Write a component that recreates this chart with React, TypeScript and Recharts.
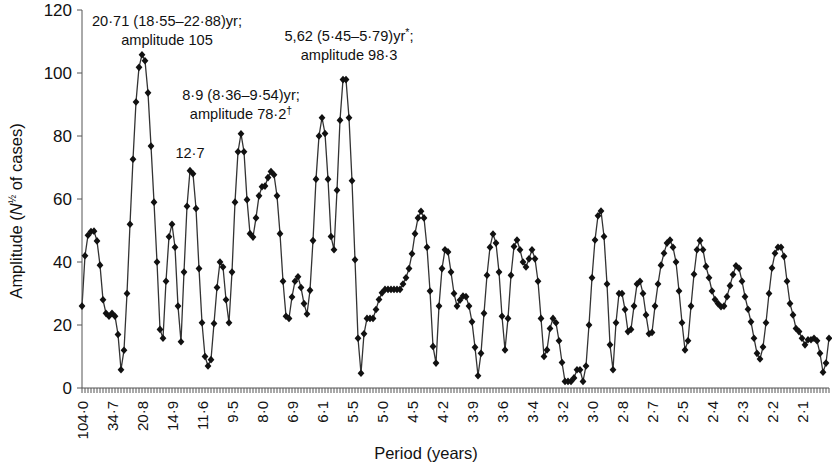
import { LineChart, Line, XAxis, YAxis, ReferenceDot } from "recharts";

// period tick labels, one every 10 frequency steps
const periodLabels = [
  "104·0", "34·7", "20·8", "14·9", "11·6", "9·5", "8·0", "6·9", "6·1", "5·5",
  "5·0", "4·5", "4·2", "3·9", "3·6", "3·4", "3·2", "3·0", "2·8", "2·7",
  "2·5", "2·4", "2·3", "2·2", "2·1",
];

// amplitude (N^1/2 of cases) per frequency step
const amplitude = [
  26, 42, 48.5, 49.7, 49.8, 46.7, 39, 28, 23.7, 22.8,
  23.7, 22.8, 17, 5.8, 12, 30, 52, 72.6, 90.8, 101.8,
  105.8, 103.9, 93.7, 76.8, 59, 40, 18.6, 15.8, 33.9, 48,
  52, 44.7, 26, 14.7, 36.8, 57.7, 69, 68, 57, 37.9,
  20.7, 10, 7, 9, 20.5, 31.9, 40, 38.4, 28, 20.7,
  36.8, 59, 75, 80.7, 75, 59.8, 49, 47.9, 54, 61,
  63.9, 64.1, 66.8, 68.7, 67.7, 61, 49, 33.9, 22.8, 22.1,
  28.9, 33.9, 35.3, 31.9, 26.8, 23.5, 31, 46.8, 66.3, 80,
  85.8, 80.8, 66.3, 48.1, 43.9, 62.8, 85, 97.9, 97.9, 85.8,
  65.8, 40.7, 15.8, 4.7, 17.2, 22.1, 22.1, 22.1, 24.9, 28.1,
  30.2, 31.3, 31.3, 31.3, 31.3, 31.3, 31.3, 33, 35, 37.9,
  42.6, 49, 54, 56.1, 54, 44.7, 30.8, 13.2, 7.9, 26,
  37.9, 43.9, 43.2, 36.8, 30, 26, 27.9, 29.2, 29, 26,
  21, 12.9, 3.9, 11, 23.7, 35.8, 44.7, 48.9, 46, 36.8,
  22.8, 12.1, 22.1, 35.8, 44.9, 47, 43.9, 40, 38.4, 41,
  43.9, 41, 33.9, 22.1, 10, 12.1, 18.9, 22.1, 20.7, 15,
  8.1, 2.1, 2.1, 2.1, 3.2, 5.8, 5.8, 2.1, 7, 20,
  35, 47, 54.7, 56.2, 48.1, 33, 13.7, 5.8, 20.7, 30,
  30, 24.9, 17.9, 18.6, 26, 33, 33.9, 30, 23.2, 17.2,
  17.6, 26, 33, 39, 42.8, 46, 47, 44.7, 40, 30.8,
  20.7, 12.1, 15, 26, 36.1, 43.9, 46.8, 43.9, 38.6, 35,
  30.8, 28.1, 26.8, 25.8, 26, 29, 32.5, 36, 38.8, 38,
  33.9, 29, 25, 21, 15.8, 11, 9.2, 13, 20.7, 30,
  38.1, 42.8, 44.7, 44.7, 41.8, 33.9, 26.8, 23.2, 18.9, 17.9,
  15.8, 13.7, 15.3, 15.3, 15.8, 15, 11, 5, 7.9, 15.8,
];

const yTicks = [0, 20, 40, 60, 80, 100, 120];

const notes = [
  { idx: 28, level: 115, dx: 1, lines: ["20·71 (18·55–22·88)yr;", "amplitude 105"] },
  { idx: 36, level: 73, dx: 0, lines: ["12·7"] },
  { idx: 53, level: 91.4, dx: 0, lines: ["8·9 (8·36–9·54)yr;", "amplitude 78·2†"] },
  { idx: 89, level: 110.2, dx: 0, lines: ["5,62 (5·45–5·79)yr*;", "amplitude 98·3"] },
];

const data = amplitude.map((v, i) => ({ idx: i, amplitude: v }));

const FONT = "'Liberation Sans', Arial, Helvetica, sans-serif";

const Diamond = (props: any) => {
  const { cx, cy, index } = props;
  if (cx == null || cy == null) return <g key={index} />;
  return (
    <path
      key={index}
      d={`M${cx},${cy - 3.8}L${cx + 3.4},${cy}L${cx},${cy + 3.8}L${cx - 3.4},${cy}Z`}
      fill="#111"
    />
  );
};

const PeriodTick = ({ x, y, payload }: any) => {
  const i = Number(payload.value);
  if (i % 10 !== 0) return <g />;
  return (
    <text
      transform={`translate(${x},${y + 6}) rotate(-90)`}
      textAnchor="end"
      dy="0.38em"
      fontSize={15}
      fill="#111"
    >
      {periodLabels[i / 10]}
    </text>
  );
};

const YTitle = (props: any) => {
  const vb = props.viewBox || { x: 0, y: 10, width: 82, height: 378 };
  const cx = vb.x + 21.5;
  const cy = vb.y + vb.height / 2 + 12;
  return (
    <text transform={`translate(${cx},${cy}) rotate(-90)`} textAnchor="middle" fontSize={16.5} fill="#111">
      Amplitude (<tspan fontStyle="italic">N</tspan>
      <tspan fontSize={10} dy={-6}>½</tspan>
      <tspan dy={6}> of cases)</tspan>
    </text>
  );
};

const XTitle = (props: any) => {
  const vb = props.viewBox || { x: 82, y: 388, width: 747, height: 79 };
  return (
    <text x={vb.x + vb.width / 2 - 29.5} y={vb.y + 71} textAnchor="middle" fontSize={16.5} fill="#111">
      Period (years)
    </text>
  );
};

// superscript the footnote marks
const noteLine = (s: string) =>
  s.split(/([†*])/).filter(Boolean).map((part, k) =>
    part === "†" || part === "*" ? (
      <tspan key={k} fontSize={10.5} dy={-5}>{part}</tspan>
    ) : (
      <tspan key={k} dy={k > 0 ? 5 : 0}>{part}</tspan>
    )
  );

const noteShape = (lines: string[], dx: number) => (props: any) => (
  <g>
    {lines.map((line, k) => (
      <text key={k} x={props.cx + dx} y={props.cy + k * 19} textAnchor="middle" fontSize={14.6} fill="#111">
        {noteLine(line)}
      </text>
    ))}
  </g>
);

export default function App() {
  return (
    <div style={{ position: "absolute", left: 0, top: 0 }}>
      <LineChart
        width={832}
        height={467}
        data={data}
        margin={{ top: 10, right: 3, left: 0, bottom: 0 }}
        style={{ fontFamily: FONT }}
      >
        <XAxis
          dataKey="idx"
          type="category"
          interval={0}
          height={79}
          tickSize={5}
          tick={<PeriodTick />}
          axisLine={{ stroke: "#555" }}
          tickLine={{ stroke: "#555" }}
          label={{ content: XTitle }}
        />
        <YAxis
          domain={[0, 120]}
          ticks={yTicks}
          width={82}
          tickSize={5}
          tickMargin={5}
          tick={{ fontSize: 17, fill: "#111" }}
          axisLine={{ stroke: "#555" }}
          tickLine={{ stroke: "#555" }}
          label={{ content: YTitle }}
        />
        <Line
          type="linear"
          dataKey="amplitude"
          stroke="#333"
          strokeWidth={1.3}
          dot={Diamond}
          activeDot={false}
          isAnimationActive={false}
        />
        {notes.map((n) => (
          <ReferenceDot
            key={n.idx}
            x={n.idx}
            y={n.level}
            r={0}
            shape={noteShape(n.lines, n.dx)}
          />
        ))}
      </LineChart>
    </div>
  );
}
